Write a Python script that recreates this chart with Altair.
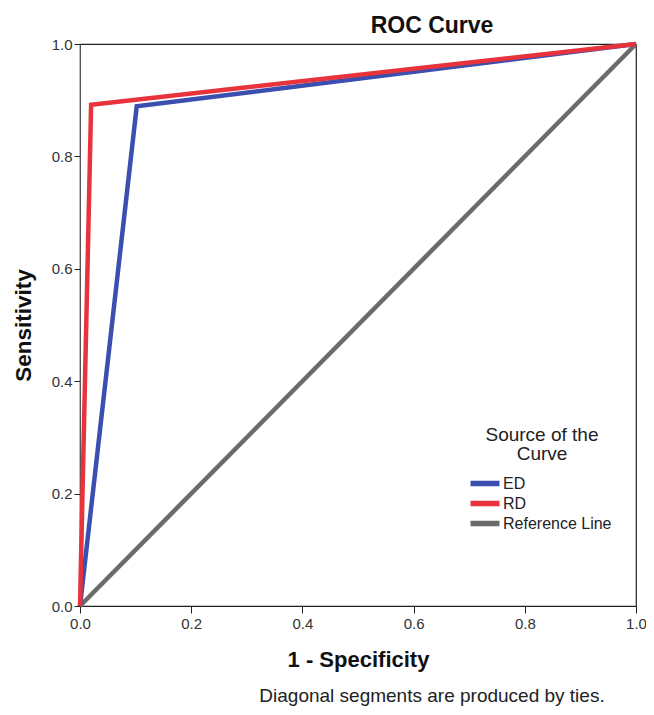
import altair as alt
import pandas as pd

# ROC curve points
ed_fpr = [0.0, 0.102, 1.0]
ed_tpr = [0.0, 0.889, 1.0]
rd_fpr = [0.0, 0.02, 1.0]
rd_tpr = [0.0, 0.892, 1.0]
ref_fpr = [0.0, 1.0]
ref_tpr = [0.0, 1.0]

series = ["ED", "RD", "Reference Line"]
colors = ["#3a4fb0", "#e8323c", "#6b6b6b"]
ticks = [0.0, 0.2, 0.4, 0.6, 0.8, 1.0]

rows = []
for name, xs, ys in [("Reference Line", ref_fpr, ref_tpr),
                     ("ED", ed_fpr, ed_tpr),
                     ("RD", rd_fpr, rd_tpr)]:
    for i, (x, y) in enumerate(zip(xs, ys)):
        rows.append({"Source": name, "fpr": x, "tpr": y, "step": i})
df = pd.DataFrame(rows)

FONT = "Liberation Sans"
W, H = 556, 562

color = alt.Color(
    "Source:N",
    scale=alt.Scale(domain=series, range=colors),
    legend=alt.Legend(
        title=["Source of the", "Curve"],
        orient="none", legendX=393, legendY=382,
        titleFont=FONT, titleFontSize=19, titleFontWeight="normal",
        titleColor="#222222", titleAlign="center", titleAnchor="middle",
        titleLineHeight=19, titlePadding=11,
        labelFont=FONT, labelFontSize=16, labelColor="#222222",
        symbolType="M-2,0L3.27,0", symbolStrokeWidth=5.5, symbolSize=121,
        rowPadding=-3, labelOffset=13,
    ),
)

x_enc = alt.X("fpr:Q", scale=alt.Scale(domain=[0, 1], nice=False),
              axis=alt.Axis(title="1 - Specificity", values=ticks, format=".1f",
                            grid=False, tickSize=7, labelPadding=3, labelFlush=False,
                            labelFont=FONT, labelFontSize=15, labelColor="#333333",
                            titleFont=FONT, titleFontSize=22, titleFontWeight="bold",
                            titleColor="#111111", titlePadding=18,
                            domainColor="#222222", tickColor="#222222"))
y_enc = alt.Y("tpr:Q", scale=alt.Scale(domain=[0, 1], nice=False),
              axis=alt.Axis(title="Sensitivity", values=ticks, format=".1f",
                            grid=False, tickSize=6, labelPadding=2, labelFlush=False,
                            labelFont=FONT, labelFontSize=15, labelColor="#333333",
                            titleFont=FONT, titleFontSize=22.5, titleFontWeight="bold",
                            titleColor="#111111", titlePadding=16,
                            domainColor="#555555", tickColor="#222222"))

lines = []
for name in ["Reference Line", "ED", "RD"]:
    lines.append(
        alt.Chart(df[df["Source"] == name]).mark_line(strokeWidth=4.5, strokeCap="butt", strokeJoin="miter")
        .encode(x=x_enc, y=y_enc, color=color, order="step:Q")
    )

note = alt.Chart(pd.DataFrame({"t": ["Diagonal segments are produced by ties."]})).mark_text(
    font=FONT, fontSize=19, color="#222222", align="center", baseline="middle"
).encode(text="t:N", x=alt.value(352), y=alt.value(652))

chart = alt.layer(*lines, note).properties(
    width=W, height=H,
    title=alt.TitleParams("ROC Curve", font=FONT, fontSize=23, fontWeight="bold",
                          color="#111111", anchor="middle", dx=74, dy=11, offset=8),
    autosize=alt.AutoSizeParams(type="none"),
    padding={"left": 72, "top": 36, "right": 10, "bottom": 100},
).configure_view(stroke="#222222", strokeWidth=1.2)

chart.save("out.html", embed_options={"renderer": "svg", "actions": False})
